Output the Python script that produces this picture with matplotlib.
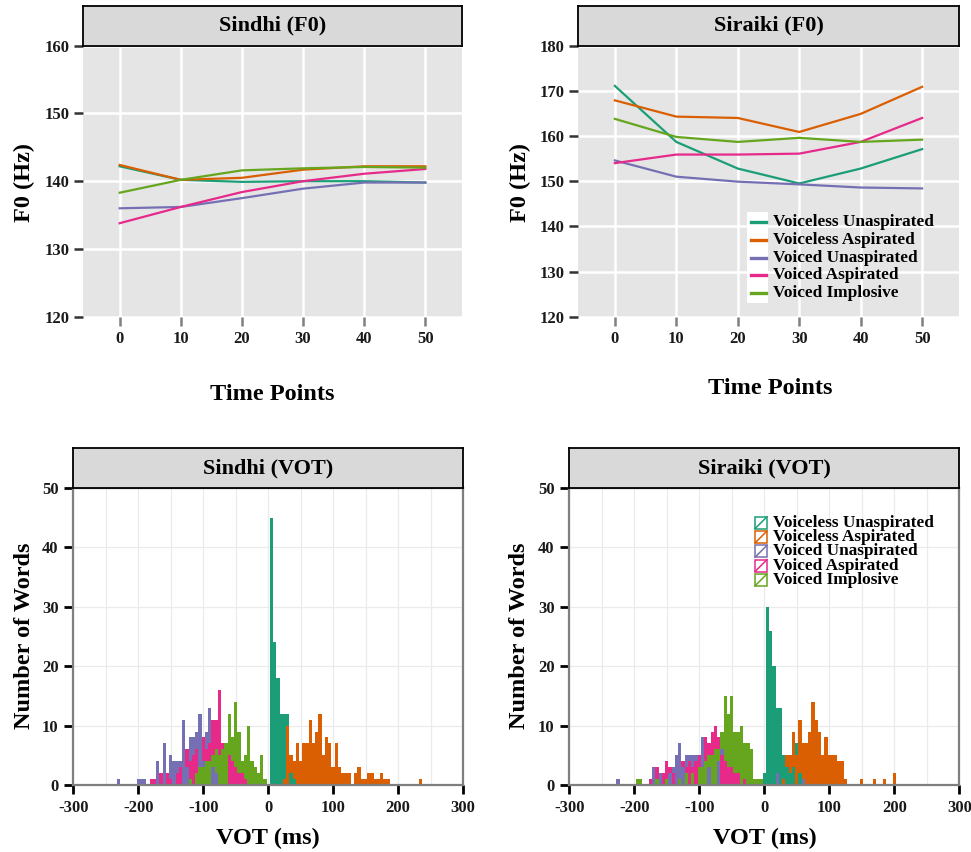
import matplotlib.pyplot as plt
from matplotlib.patches import Rectangle
from matplotlib.lines import Line2D

plt.rcParams['font.family'] = ['Liberation Serif', 'DejaVu Serif']
plt.rcParams['font.weight'] = 'bold'
plt.rcParams['axes.unicode_minus'] = False

W, H = 971, 852

categories = ['Voiceless Unaspirated', 'Voiceless Aspirated', 'Voiced Unaspirated',
              'Voiced Aspirated', 'Voiced Implosive']
colors = ['#1B9E77', '#D95F02', '#7570B3', '#E7298A', '#66A61E']

# --- F0 contours (Hz) at the six time points ---
time_points = [0, 10, 20, 30, 40, 50]

sindhi_f0_vlu = [142.2, 140.2, 139.9, 140.0, 140.0, 139.8]
sindhi_f0_vla = [142.4, 140.2, 140.5, 141.7, 142.2, 142.2]
sindhi_f0_vu = [136.0, 136.2, 137.5, 138.9, 139.8, 139.8]
sindhi_f0_va = [133.8, 136.2, 138.4, 140.0, 141.1, 141.8]
sindhi_f0_vi = [138.3, 140.2, 141.6, 141.9, 142.1, 142.0]

siraiki_f0_vlu = [171.1, 158.7, 152.8, 149.5, 152.8, 157.1]
siraiki_f0_vla = [167.9, 164.3, 164.0, 160.9, 164.9, 170.9]
siraiki_f0_vu = [154.6, 151.0, 149.9, 149.3, 148.6, 148.4]
siraiki_f0_va = [154.0, 155.9, 155.9, 156.1, 158.7, 164.0]
siraiki_f0_vi = [163.8, 159.8, 158.7, 159.6, 158.7, 159.2]

# --- VOT histograms: 5 ms bin centre -> number of words ---
sindhi_vot_vlu = {5: 45, 10: 24, 15: 18, 20: 12, 25: 12, 30: 12, 35: 2, 40: 1}
sindhi_vot_vla = {25: 1, 30: 10, 35: 5, 40: 4, 45: 7, 50: 4, 55: 7, 60: 7, 65: 11, 70: 7,
                  75: 9, 80: 12, 85: 5, 90: 8, 95: 7, 100: 3, 105: 7, 110: 3, 115: 2,
                  120: 2, 125: 2, 135: 2, 140: 3, 145: 1, 150: 1, 155: 2, 160: 2, 165: 1,
                  170: 1, 175: 2, 180: 1, 185: 1, 235: 1}
sindhi_vot_vu = {-230: 1, -200: 1, -195: 1, -190: 1, -170: 4, -160: 7, -150: 5, -145: 4,
                 -140: 4, -135: 4, -130: 11, -125: 3, -120: 8, -115: 8, -110: 9, -105: 12,
                 -100: 4, -95: 9, -90: 13, -85: 3, -80: 2}
sindhi_vot_va = {-180: 1, -175: 1, -165: 2, -155: 2, -150: 1, -140: 2, -135: 3, -125: 6,
                 -120: 4, -115: 5, -110: 6, -100: 8, -95: 6, -90: 7, -85: 11, -80: 11,
                 -75: 16, -70: 7, -65: 7, -60: 5, -55: 4, -50: 3, -45: 2, -40: 2, -35: 1}
sindhi_vot_vi = {-120: 1, -110: 2, -105: 3, -100: 3, -95: 4, -90: 4, -85: 5, -80: 6,
                 -75: 5, -70: 6, -65: 7, -60: 12, -55: 8, -50: 14, -45: 9, -40: 4, -35: 5,
                 -30: 10, -25: 4, -20: 3, -15: 2, -10: 5, -5: 1}

siraiki_vot_vlu = {0: 2, 5: 30, 10: 26, 15: 20, 20: 13, 25: 13, 30: 5, 35: 3, 40: 2,
                   45: 3, 50: 7, 55: 2}
siraiki_vot_vla = {30: 1, 35: 5, 40: 5, 45: 9, 50: 5, 55: 11, 60: 7, 65: 7, 70: 9, 75: 14,
                   80: 11, 85: 9, 90: 5, 95: 8, 100: 5, 105: 5, 110: 5, 115: 4, 120: 4,
                   125: 1, 150: 1, 170: 1, 185: 1, 200: 2}
siraiki_vot_vu = {-225: 1, -170: 3, -160: 2, -145: 2, -140: 3, -135: 5, -130: 7, -125: 3,
                  -120: 5, -115: 5, -110: 5, -105: 5, -100: 5, -95: 8, -90: 4, -85: 3,
                  -70: 4, -65: 6, 20: 2, 60: 1}
siraiki_vot_va = {-175: 1, -165: 3, -155: 2, -150: 4, -145: 3, -140: 2, -125: 4, -120: 3,
                  -115: 4, -110: 3, -105: 4, -100: 5, -90: 8, -85: 7, -80: 9, -75: 10,
                  -70: 8, -65: 5, -60: 4, -55: 3, -50: 3, -45: 2, -40: 2, -30: 1}
siraiki_vot_vi = {-195: 1, -190: 1, -165: 1, -150: 1, -130: 1, -120: 2, -110: 2, -100: 3,
                  -95: 3, -90: 4, -85: 5, -80: 5, -75: 6, -70: 6, -65: 9, -60: 15, -55: 12,
                  -50: 15, -45: 9, -40: 9, -35: 10, -30: 7, -25: 7, -20: 6, -15: 1, -10: 1,
                  -5: 1}


def box(x0, y0, x1, y1):
    """pixel box (top-left origin) -> figure rect"""
    return [x0 / W, 1 - y1 / H, (x1 - x0) / W, (y1 - y0) / H]


def strip(fig, rect, title):
    s = fig.add_axes(rect)
    s.set_facecolor('#D9D9D9')
    s.set_xticks([])
    s.set_yticks([])
    for sp in s.spines.values():
        sp.set_color('black')
        sp.set_linewidth(1.3)
    s.text(0.5, 0.5, title, ha='center', va='center', fontsize=16,
           fontweight='bold', transform=s.transAxes)


def f0_panel(fig, px, title, series, ymax):
    ax = fig.add_axes(box(px[0], 45.7, px[1], 316.7))
    ax.set_facecolor('#E5E5E5')
    for vals, c in zip(series, colors):
        ax.plot(time_points, vals, color=c, lw=1.6, zorder=3)
    ax.set_xlim(-6, 56)
    ax.set_ylim(120, ymax)
    ax.set_xticks(time_points)
    ax.set_yticks(range(120, ymax + 1, 10))
    ax.grid(True, color='white', lw=1.8)
    ax.set_axisbelow(True)
    for sp in ax.spines.values():
        sp.set_visible(False)
    ax.tick_params(axis='x', length=6.5, width=1.8, color='#7F7F7F', pad=3.5,
                   labelsize=12, labelcolor='#1a1a1a')
    ax.tick_params(axis='y', length=6.5, width=1.8, color='#333333', pad=3,
                   labelsize=12, labelcolor='#1a1a1a')
    strip(fig, box(px[0], 6, px[1], 45.7), title)
    return ax


def vot_panel(fig, px, title, series):
    ax = fig.add_axes(box(px[0], 488, px[1], 785))
    ax.set_facecolor('white')
    for counts, c in zip(series, colors):
        bars = ax.bar(list(counts.keys()), list(counts.values()), width=5,
                      color=c, linewidth=0)
        # shorter bars in front so overlapping groups stay visible
        for b, v in zip(bars, counts.values()):
            b.set_zorder(3 + (60 - v) / 100)
    ax.set_xlim(-300, 300)
    ax.set_ylim(0, 50)
    ax.set_xticks(range(-300, 301, 100))
    ax.set_xticks(range(-250, 300, 100), minor=True)
    ax.set_yticks(range(0, 51, 10))
    ax.grid(True, which='both', axis='x', color='#EBEBEB', lw=0.9)
    ax.grid(True, which='major', axis='y', color='#EBEBEB', lw=0.9)
    ax.set_axisbelow(True)
    for sp in ax.spines.values():
        sp.set_color('#7F7F7F')
        sp.set_linewidth(1.6)
        sp.set_zorder(6)
    ax.tick_params(which='major', length=6.5, width=2, color='black', pad=4,
                   labelsize=12, labelcolor='#1a1a1a')
    ax.tick_params(which='minor', length=0)
    strip(fig, box(px[0], 448, px[1], 488), title)
    return ax


fig = plt.figure(figsize=(W / 100, H / 100), dpi=100)

f0_panel(fig, (83, 462), 'Sindhi (F0)',
         [sindhi_f0_vlu, sindhi_f0_vla, sindhi_f0_vu, sindhi_f0_va, sindhi_f0_vi], 160)
ax_tr = f0_panel(fig, (578, 959), 'Siraiki (F0)',
                 [siraiki_f0_vlu, siraiki_f0_vla, siraiki_f0_vu, siraiki_f0_va,
                  siraiki_f0_vi], 180)

vot_panel(fig, (73.3, 463), 'Sindhi (VOT)',
          [sindhi_vot_vlu, sindhi_vot_vla, sindhi_vot_vu, sindhi_vot_va, sindhi_vot_vi])
ax_br = vot_panel(fig, (569.3, 959.3), 'Siraiki (VOT)',
                  [siraiki_vot_vlu, siraiki_vot_vla, siraiki_vot_vu, siraiki_vot_va,
                   siraiki_vot_vi])

# axis titles
title_kw = dict(fontsize=17.5, fontweight='bold', ha='center', va='center')
fig.text(24 / W, 1 - 182 / H, 'F0 (Hz)', rotation=90, **title_kw)
fig.text(520 / W, 1 - 182 / H, 'F0 (Hz)', rotation=90, **title_kw)
fig.text(272 / W, 1 - 395 / H, 'Time Points', **title_kw)
fig.text(770 / W, 1 - 389 / H, 'Time Points', **title_kw)
fig.text(25 / W, 1 - 636 / H, 'Number of Words', rotation=90, **title_kw)
fig.text(519 / W, 1 - 636 / H, 'Number of Words', rotation=90, **title_kw)
fig.text(268 / W, 1 - 838 / H, 'VOT (ms)', **title_kw)
fig.text(765 / W, 1 - 838 / H, 'VOT (ms)', **title_kw)

# legend of the Siraiki F0 panel: line keys on a white strip
tf = fig.transFigure
fig.patches.append(Rectangle((747 / W, 1 - 303 / H), 21 / W, 91 / H, transform=tf,
                             facecolor='white', edgecolor='none', zorder=5))
for i, (cat, c) in enumerate(zip(categories, colors)):
    y = 1 - (222 + 17.8 * i) / H
    fig.lines.append(Line2D([750.7 / W, 766 / W], [y, y], transform=tf, color=c,
                            lw=2.4, zorder=6))
    fig.text(773 / W, y, cat, fontsize=12.4, fontweight='bold', va='center', zorder=6)

# legend of the Siraiki VOT panel: outlined boxes with a diagonal
for i, (cat, c) in enumerate(zip(categories, colors)):
    yc = 522.7 + 14.3 * i
    x0, x1, y0, y1 = 755, 767, yc + 6, yc - 6
    fig.patches.append(Rectangle((x0 / W, 1 - y0 / H), (x1 - x0) / W, (y0 - y1) / H,
                                 transform=tf, facecolor='white', edgecolor=c, lw=1.1,
                                 zorder=6))
    fig.lines.append(Line2D([x0 / W, x1 / W], [1 - y0 / H, 1 - y1 / H], transform=tf,
                            color=c, lw=1.1, zorder=7))
    fig.text(773 / W, 1 - yc / H, cat, fontsize=12.4, fontweight='bold', va='center',
             zorder=7)

fig.savefig('out.png', dpi=100)
